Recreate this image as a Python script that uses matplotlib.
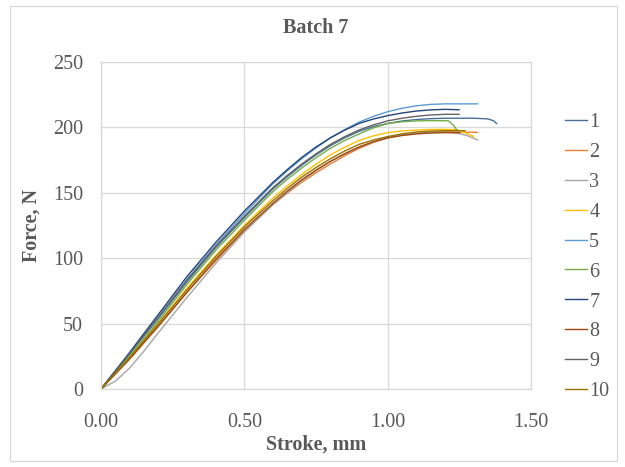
"""Batch 7 force-stroke curves, Excel look."""

import matplotlib
matplotlib.use('Agg')
import matplotlib.pyplot as plt
from matplotlib.patches import Rectangle

plt.rcParams.update({
    'font.family': ['Liberation Serif', 'DejaVu Serif'],
    'font.size':   14.5,
})

# ── Data ──────────────────────────────────────────────────────────────────────
labels = ['1', '2', '3', '4', '5', '6', '7', '8', '9', '10']

# stroke readings shared by most specimens (mm)
base_x = [0, 0.1, 0.2, 0.3, 0.4, 0.5, 0.6, 0.65, 0.7, 0.75, 0.8, 0.85,
          0.9, 0.95, 1.0, 1.05, 1.1, 1.15, 1.2]

s1_x = base_x + [1.3, 1.35, 1.37, 1.38]
s1_f = [0, 27, 54, 82, 108, 131, 153, 162.3, 171, 178.9, 186, 192,
        197, 200.6, 203, 204.9, 206, 206.7, 207, 207, 206.5, 205, 203]

s2_x = base_x + [1.314]
s2_f = [0, 23, 48, 74, 98, 121, 141, 149.8, 158, 165.3, 172, 178.3,
        184, 188.5, 192, 194.2, 195.5, 196.3, 196.7, 196.2]

s3_x = [0, 0.05, 0.1, 0.15, 0.2, 0.3, 0.4, 0.5, 0.6, 0.65, 0.7, 0.75, 0.8, 0.85,
        0.9, 0.95, 1.0, 1.05, 1.1, 1.15, 1.2, 1.24, 1.28, 1.314]
s3_f = [0, 6, 16, 29, 43, 70, 96, 120, 141, 150.3, 159, 166.8, 174, 179.8,
        185, 189, 192, 194.2, 195.5, 196.2, 196.5, 196, 193.5, 190.4]

s4_x = base_x + [1.24, 1.27, 1.30]
s4_f = [0, 24, 50, 77, 102, 125, 146, 155.3, 164, 171.8, 179, 184.8,
        190, 193.5, 196, 197.3, 198, 198.4, 198.5, 198.3, 196, 193]

s5_x = base_x + [1.314]
s5_f = [0, 27, 55, 84, 110, 134, 157, 166.8, 176, 184.3, 192, 198.3,
        204, 208.4, 212, 214.6, 216.5, 217.6, 218, 218]

s6_x = base_x + [1.212, 1.23, 1.246]
s6_f = [0, 25, 52, 80, 106, 129, 151, 160.3, 169, 176.8, 184, 190,
        195, 199.6, 203, 204.3, 205, 205.2, 205.1, 205, 201.5, 196.7]

s7_x = base_x + [1.249]
s7_f = [0, 28, 57, 86, 112, 136, 158, 167.8, 177, 185, 192, 197.9,
        203, 206.4, 209, 211, 212.5, 213.4, 213.8, 213.5]

s8_x = base_x + [1.25]
s8_f = [0, 23, 48, 74, 99, 122, 142, 151.3, 160, 167.3, 174, 179.8,
        185, 189, 192, 193.8, 195, 195.7, 196, 195.8]

s9_x = base_x + [1.249]
s9_f = [0, 27, 55, 83, 109, 132, 154, 163.3, 172, 179.8, 187, 192.9,
        198, 201.9, 205, 207, 208.5, 209.5, 210, 210]

s10_x = base_x + [1.27]
s10_f = [0, 24, 50, 76, 101, 124, 144, 153.3, 162, 169.3, 176, 181.9,
         187, 190.4, 193, 195.1, 196.5, 197.2, 197.5, 197.5]

xs = [s1_x, s2_x, s3_x, s4_x, s5_x, s6_x, s7_x, s8_x, s9_x, s10_x]
fs = [s1_f, s2_f, s3_f, s4_f, s5_f, s6_f, s7_f, s8_f, s9_f, s10_f]

# ── Style ─────────────────────────────────────────────────────────────────────
COLORS = ['#4A6E98', '#ED7D31', '#A5A5A5', '#FFC000', '#5B9BD5',
          '#70AD47', '#264478', '#9E480E', '#636363', '#997300']
GRID  = '#D9D9D9'
TEXT  = '#595959'

fig = plt.figure(figsize=(6.25, 4.67), dpi=100, facecolor='white')
ax = fig.add_axes([101/625, 78/467, 430/625, 327/467])

for x, f, c, lab in zip(xs, fs, COLORS, labels):
    ax.plot(x, f, color=c, lw=1.0, label=lab, solid_joinstyle='round')

ax.set_xlim(0, 1.5)
ax.set_ylim(0, 250)
ax.set_xticks([0, 0.5, 1.0, 1.5])
ax.set_xticklabels(['0.00', '0.50', '1.00', '1.50'])
ax.set_yticks(range(0, 251, 50))
ax.grid(True, color=GRID, lw=0.9)
ax.set_axisbelow(True)
for sp in ax.spines.values():
    sp.set_color(GRID)
    sp.set_linewidth(0.9)
ax.tick_params(axis='both', length=0, colors=TEXT, labelsize=14.5)
ax.tick_params(axis='x', pad=17)
ax.tick_params(axis='y', pad=13)

ax.set_xlabel('Stroke, mm', fontweight='bold', color=TEXT, fontsize=14.5, va='center')
ax.xaxis.set_label_coords(0.5, (389 - 445) / 327)
ax.set_ylabel('Force, N', fontweight='bold', color=TEXT, fontsize=14.5,
              va='center', ha='center')
ax.yaxis.set_label_coords((32 - 101) / 430, 0.5)

fig.text(316/625, (467 - 28)/467, 'Batch 7', ha='center', va='center',
         fontsize=14.5, fontweight='bold', color=TEXT)

leg = ax.legend(loc='center left', bbox_to_anchor=(565/625, (467 - 257)/467),
                bbox_transform=fig.transFigure, frameon=False,
                handlelength=1.1, handletextpad=0.1, labelspacing=0.54,
                borderpad=0, borderaxespad=0, fontsize=14.5)
for t in leg.get_texts():
    t.set_color(TEXT)

# chart area border
fig.add_artist(Rectangle((10/625, 6/467), 607/625, 455/467,
                         transform=fig.transFigure, fill=False,
                         edgecolor=GRID, lw=0.9))

fig.savefig('out.png', dpi=100)
